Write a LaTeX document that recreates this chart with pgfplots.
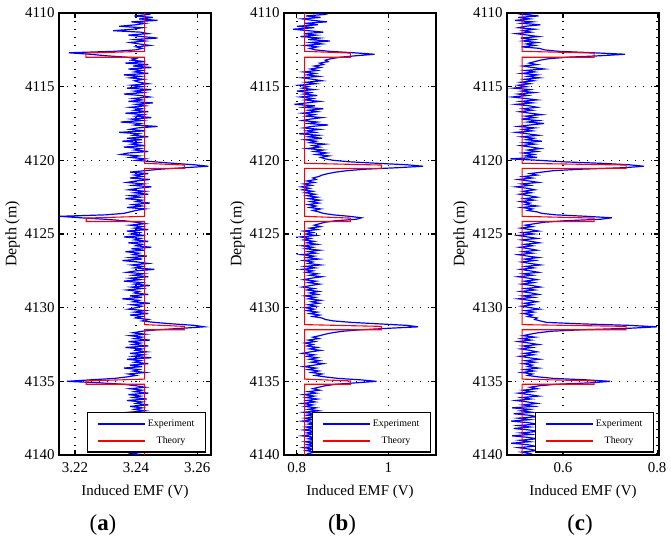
\documentclass[border=0pt]{standalone}
\usepackage{fontspec}
\setmainfont{Liberation Serif}
\usepackage{pgfplots}
\usepackage{pgfplotstable}
\pgfplotsset{compat=1.18}

\pgfplotstableread{
d a b c
4110.0 3.2425 0.845 0.540
4110.1 3.2440 0.860 0.515
4110.2 3.2395 0.820 0.548
4110.3 3.2455 0.852 0.505
4110.4 3.2410 0.812 0.530
4110.5 3.2470 0.835 0.498
4110.6 3.2385 0.866 0.535
4110.7 3.2430 0.818 0.512
4110.8 3.2400 0.846 0.552
4110.9 3.2345 0.800 0.520
4111.0 3.2420 0.838 0.505
4111.1 3.2390 0.792 0.540
4111.2 3.2325 0.825 0.515
4111.3 3.2415 0.858 0.532
4111.4 3.2440 0.815 0.500
4111.5 3.2375 0.842 0.525
4111.6 3.2420 0.808 0.548
4111.7 3.2470 0.850 0.510
4111.8 3.2395 0.825 0.538
4111.9 3.2430 0.872 0.515
4112.0 3.2380 0.830 0.545
4112.1 3.2410 0.855 0.522
4112.2 3.2445 0.818 0.540
4112.3 3.2400 0.845 0.512
4112.4 3.2420 0.828 0.550
4112.5 3.2400 0.840 0.560
4112.6 3.2330 0.870 0.590
4112.7 3.2180 0.925 0.665
4112.8 3.2250 0.970 0.732
4112.9 3.2300 0.930 0.680
4113.0 3.2370 0.895 0.610
4113.1 3.2400 0.875 0.570
4113.2 3.2385 0.862 0.552
4113.3 3.2430 0.868 0.540
4113.4 3.2365 0.850 0.528
4113.5 3.2440 0.858 0.545
4113.6 3.2390 0.838 0.515
4113.7 3.2450 0.852 0.535
4113.8 3.2375 0.830 0.560
4113.9 3.2420 0.845 0.520
4114.0 3.2395 0.815 0.540
4114.1 3.2440 0.840 0.512
4114.2 3.2360 0.822 0.545
4114.3 3.2415 0.848 0.525
4114.4 3.2380 0.812 0.550
4114.5 3.2425 0.835 0.518
4114.6 3.2395 0.855 0.538
4114.7 3.2410 0.820 0.510
4114.8 3.2440 0.842 0.530
4114.9 3.2385 0.805 0.505
4115.0 3.2420 0.825 0.522
4115.1 3.2370 0.812 0.495
4115.2 3.2450 0.838 0.530
4115.3 3.2395 0.800 0.512
4115.4 3.2425 0.830 0.540
4115.5 3.2360 0.815 0.505
4115.6 3.2415 0.845 0.525
4115.7 3.2445 0.808 0.492
4115.8 3.2390 0.835 0.520
4115.9 3.2420 0.818 0.545
4116.0 3.2375 0.850 0.510
4116.1 3.2455 0.822 0.535
4116.2 3.2400 0.795 0.500
4116.3 3.2430 0.840 0.528
4116.4 3.2380 0.815 0.545
4116.5 3.2420 0.858 0.515
4116.6 3.2395 0.825 0.535
4116.7 3.2440 0.845 0.508
4116.8 3.2365 0.812 0.530
4116.9 3.2425 0.838 0.555
4117.0 3.2400 0.820 0.520
4117.1 3.2450 0.855 0.540
4117.2 3.2385 0.830 0.512
4117.3 3.2420 0.812 0.548
4117.4 3.2350 0.845 0.525
4117.5 3.2415 0.825 0.560
4117.6 3.2395 0.868 0.530
4117.7 3.2470 0.832 0.505
4117.8 3.2405 0.815 0.540
4117.9 3.2380 0.850 0.515
4118.0 3.2430 0.822 0.535
4118.1 3.2345 0.840 0.500
4118.2 3.2410 0.805 0.525
4118.3 3.2390 0.848 0.548
4118.4 3.2440 0.825 0.512
4118.5 3.2370 0.855 0.538
4118.6 3.2420 0.818 0.522
4118.7 3.2355 0.842 0.555
4118.8 3.2410 0.828 0.518
4118.9 3.2385 0.862 0.540
4119.0 3.2430 0.835 0.510
4119.1 3.2360 0.850 0.532
4119.2 3.2415 0.822 0.552
4119.3 3.2395 0.858 0.525
4119.4 3.2440 0.838 0.545
4119.5 3.2375 0.865 0.515
4119.6 3.2350 0.842 0.538
4119.7 3.2410 0.870 0.520
4119.8 3.2380 0.852 0.545
4119.9 3.2430 0.862 0.488
4120.0 3.2400 0.880 0.550
4120.1 3.2460 0.915 0.600
4120.2 3.2520 0.975 0.680
4120.3 3.2590 1.040 0.740
4120.4 3.2636 1.076 0.772
4120.5 3.2560 1.020 0.730
4120.6 3.2480 0.950 0.640
4120.7 3.2430 0.910 0.580
4120.8 3.2380 0.885 0.555
4120.9 3.2440 0.868 0.530
4121.0 3.2395 0.855 0.545
4121.1 3.2420 0.848 0.515
4121.2 3.2380 0.835 0.535
4121.3 3.2445 0.842 0.505
4121.4 3.2400 0.822 0.528
4121.5 3.2370 0.838 0.548
4121.6 3.2425 0.815 0.512
4121.7 3.2390 0.832 0.530
4121.8 3.2450 0.810 0.500
4121.9 3.2405 0.828 0.525
4122.0 3.2375 0.812 0.540
4122.1 3.2430 0.835 0.515
4122.2 3.2395 0.818 0.532
4122.3 3.2440 0.840 0.508
4122.4 3.2380 0.822 0.528
4122.5 3.2415 0.845 0.545
4122.6 3.2365 0.825 0.518
4122.7 3.2420 0.850 0.538
4122.8 3.2400 0.830 0.510
4122.9 3.2445 0.848 0.530
4123.0 3.2390 0.825 0.520
4123.1 3.2420 0.842 0.545
4123.2 3.2370 0.828 0.512
4123.3 3.2430 0.852 0.535
4123.4 3.2400 0.835 0.525
4123.5 3.2380 0.848 0.545
4123.6 3.2360 0.858 0.555
4123.7 3.2300 0.880 0.585
4123.8 3.2150 0.915 0.650
4123.9 3.2220 0.941 0.704
4124.0 3.2300 0.930 0.680
4124.1 3.2360 0.885 0.605
4124.2 3.2400 0.862 0.560
4124.3 3.2430 0.850 0.540
4124.4 3.2380 0.838 0.520
4124.5 3.2420 0.852 0.535
4124.6 3.2395 0.828 0.510
4124.7 3.2440 0.845 0.530
4124.8 3.2370 0.815 0.548
4124.9 3.2410 0.835 0.515
4125.0 3.2385 0.820 0.538
4125.1 3.2430 0.842 0.505
4125.2 3.2360 0.808 0.525
4125.3 3.2415 0.830 0.545
4125.4 3.2395 0.815 0.512
4125.5 3.2440 0.838 0.532
4125.6 3.2375 0.822 0.550
4125.7 3.2420 0.845 0.518
4125.8 3.2400 0.812 0.535
4125.9 3.2450 0.835 0.508
4126.0 3.2385 0.818 0.528
4126.1 3.2425 0.850 0.545
4126.2 3.2365 0.825 0.515
4126.3 3.2410 0.842 0.535
4126.4 3.2390 0.810 0.505
4126.5 3.2435 0.838 0.525
4126.6 3.2380 0.822 0.548
4126.7 3.2420 0.848 0.518
4126.8 3.2355 0.815 0.540
4126.9 3.2405 0.835 0.512
4127.0 3.2440 0.825 0.530
4127.1 3.2385 0.852 0.552
4127.2 3.2420 0.818 0.520
4127.3 3.2395 0.840 0.538
4127.4 3.2460 0.812 0.510
4127.5 3.2400 0.835 0.530
4127.6 3.2370 0.820 0.548
4127.7 3.2425 0.845 0.515
4127.8 3.2390 0.828 0.535
4127.9 3.2440 0.855 0.505
4128.0 3.2380 0.832 0.528
4128.1 3.2415 0.815 0.545
4128.2 3.2360 0.842 0.518
4128.3 3.2420 0.825 0.538
4128.4 3.2395 0.850 0.512
4128.5 3.2445 0.830 0.535
4128.6 3.2385 0.812 0.552
4128.7 3.2420 0.838 0.520
4128.8 3.2370 0.822 0.540
4128.9 3.2410 0.848 0.510
4129.0 3.2395 0.828 0.532
4129.1 3.2440 0.845 0.548
4129.2 3.2380 0.818 0.515
4129.3 3.2420 0.840 0.538
4129.4 3.2355 0.825 0.505
4129.5 3.2410 0.852 0.528
4129.6 3.2390 0.832 0.545
4129.7 3.2445 0.848 0.518
4129.8 3.2385 0.825 0.535
4129.9 3.2420 0.842 0.512
4130.0 3.2400 0.818 0.530
4130.1 3.2375 0.838 0.550
4130.2 3.2430 0.822 0.520
4130.3 3.2395 0.845 0.538
4130.4 3.2440 0.828 0.515
4130.5 3.2380 0.850 0.535
4130.6 3.2420 0.835 0.525
4130.7 3.2400 0.855 0.545
4130.8 3.2440 0.862 0.540
4130.9 3.2420 0.880 0.552
4131.0 3.2460 0.920 0.565
4131.1 3.2520 0.980 0.640
4131.2 3.2590 1.040 0.740
4131.3 3.2623 1.065 0.800
4131.4 3.2550 1.000 0.740
4131.5 3.2470 0.940 0.640
4131.6 3.2420 0.900 0.575
4131.7 3.2390 0.878 0.548
4131.8 3.2430 0.862 0.530
4131.9 3.2380 0.850 0.515
4132.0 3.2420 0.835 0.540
4132.1 3.2395 0.848 0.512
4132.2 3.2445 0.825 0.532
4132.3 3.2375 0.840 0.505
4132.4 3.2415 0.818 0.528
4132.5 3.2390 0.835 0.548
4132.6 3.2440 0.822 0.515
4132.7 3.2365 0.845 0.535
4132.8 3.2420 0.828 0.510
4132.9 3.2400 0.852 0.530
4133.0 3.2435 0.830 0.545
4133.1 3.2380 0.812 0.518
4133.2 3.2425 0.838 0.538
4133.3 3.2390 0.822 0.508
4133.4 3.2450 0.845 0.528
4133.5 3.2370 0.828 0.550
4133.6 3.2415 0.850 0.520
4133.7 3.2395 0.832 0.540
4133.8 3.2440 0.858 0.515
4133.9 3.2380 0.838 0.535
4134.0 3.2420 0.815 0.525
4134.1 3.2360 0.842 0.548
4134.2 3.2410 0.825 0.518
4134.3 3.2390 0.848 0.538
4134.4 3.2430 0.832 0.512
4134.5 3.2375 0.855 0.535
4134.6 3.2400 0.840 0.525
4134.7 3.2370 0.862 0.548
4134.8 3.2330 0.890 0.580
4134.9 3.2250 0.940 0.650
4135.0 3.2174 0.974 0.700
4135.1 3.2280 0.930 0.660
4135.2 3.2360 0.885 0.585
4135.3 3.2400 0.862 0.550
4135.4 3.2430 0.848 0.530
4135.5 3.2380 0.835 0.545
4135.6 3.2420 0.850 0.515
4135.7 3.2395 0.825 0.535
4135.8 3.2440 0.842 0.505
4135.9 3.2375 0.815 0.528
4136.0 3.2415 0.838 0.548
4136.1 3.2390 0.820 0.512
4136.2 3.2435 0.845 0.532
4136.3 3.2370 0.822 0.500
4136.4 3.2420 0.840 0.525
4136.5 3.2400 0.812 0.545
4136.6 3.2440 0.835 0.515
4136.7 3.2380 0.818 0.538
4136.8 3.2420 0.842 0.492
4136.9 3.2395 0.825 0.530
4137.0 3.2430 0.848 0.510
4137.1 3.2375 0.815 0.535
4137.2 3.2410 0.838 0.495
4137.3 3.2390 0.822 0.528
4137.4 3.2435 0.845 0.545
4137.5 3.2380 0.818 0.505
4137.6 3.2420 0.835 0.530
4137.7 3.2400 0.812 0.490
4137.8 3.2440 0.840 0.525
4137.9 3.2370 0.825 0.545
4138.0 3.2415 0.848 0.505
4138.1 3.2395 0.820 0.530
4138.2 3.2430 0.838 0.495
4138.3 3.2380 0.815 0.528
4138.4 3.2420 0.842 0.548
4138.5 3.2400 0.822 0.510
4138.6 3.2440 0.835 0.532
4138.7 3.2375 0.812 0.492
4138.8 3.2415 0.840 0.525
4138.9 3.2390 0.825 0.545
4139.0 3.2430 0.845 0.508
4139.1 3.2380 0.818 0.530
4139.2 3.2420 0.838 0.490
4139.3 3.2400 0.822 0.525
4139.4 3.2435 0.842 0.540
4139.5 3.2375 0.815 0.505
4139.6 3.2410 0.835 0.528
4139.7 3.2395 0.820 0.545
4139.8 3.2430 0.840 0.512
4139.9 3.2385 0.825 0.530
4140.0 3.2410 0.832 0.520
}\emftab

\pgfplotsset{
  emfpanel/.style={
    width=152bp, height=442bp, scale only axis,
    y dir=reverse, ymin=4110, ymax=4140,
    ytick={4110,4115,4120,4125,4130,4135,4140},
    /pgf/number format/1000 sep={},
    /pgf/number format/assume math mode=true,
    grid=major,
    grid style={black, line width=1.4bp, dash pattern=on 1.4bp off 6.6bp},
    axis line style={black, line width=1.6bp},
    tick style={black, line width=1.2bp},
    tick align=inside, tick pos=both,
    major tick length=5bp,
    scaled x ticks=false,
    tick label style={font=\fontsize{15}{18}\selectfont},
    label style={font=\fontsize{15}{18}\selectfont},
    xticklabel style={yshift=-4bp},
    yticklabel style={xshift=-1bp},
    xlabel={Induced EMF (V)},
    ylabel={Depth (m)},
    xlabel style={yshift=-6bp},
    ylabel style={yshift=-2bp, font=\fontsize{16}{19}\selectfont},
    legend style={at={(rel axis cs:0.967,0.005)}, anchor=south east,
      font=\fontsize{10}{12}\selectfont,
      cells={anchor=center}, inner xsep=9bp, inner ysep=5bp,
      row sep=5bp},
    legend cell align=center,
  },
}

\begin{document}
\begin{tikzpicture}
\path[use as bounding box] (0,0) rectangle (671bp,544bp);

% (a)
\begin{axis}[emfpanel, at={(59bp,89bp)}, anchor=south west,
  legend style={draw=black, line width=1.4bp, fill=white},
  xmin=3.2148, xmax=3.2645, xtick={3.22,3.24,3.26},
  xticklabels={3.22,3.24,3.26}]
\addplot[blue, line width=1.2bp,
  legend image code/.code={\draw[blue, line width=2.2bp] (0bp,0bp) -- (47bp,0bp);}]
  table[x=a, y=d] {\emftab};
\addplot[red, line width=1.1bp,
  legend image code/.code={\draw[red, line width=1.5bp] (0bp,0bp) -- (47bp,0bp);}]
  coordinates {
(3.2428,4110) (3.2428,4112.6) (3.2236,4112.72) (3.2236,4113.0) (3.2428,4113.0)
(3.2428,4120.2) (3.2558,4120.32) (3.2558,4120.55) (3.2428,4120.55)
(3.2428,4123.8) (3.2237,4123.92) (3.2237,4124.15) (3.2428,4124.15)
(3.2428,4131.15) (3.2558,4131.27) (3.2558,4131.5) (3.2428,4131.5)
(3.2428,4134.85) (3.2237,4134.97) (3.2237,4135.2) (3.2428,4135.2)
(3.2428,4140)};
\legend{Experiment, Theory}
\end{axis}

% (b)
\begin{axis}[emfpanel, at={(284bp,89bp)}, anchor=south west,
  legend style={draw=black, line width=1.4bp, fill=white},
  xmin=0.772, xmax=1.104, xtick={0.8,1}, xticklabels={0.8,1}]
\addplot[blue, line width=1.2bp,
  legend image code/.code={\draw[blue, line width=2.2bp] (0bp,0bp) -- (47bp,0bp);}]
  table[x=b, y=d] {\emftab};
\addplot[red, line width=1.1bp,
  legend image code/.code={\draw[red, line width=1.5bp] (0bp,0bp) -- (47bp,0bp);}]
  coordinates {
(0.817,4110) (0.817,4112.6) (0.917,4112.72) (0.917,4113.0) (0.817,4113.0)
(0.817,4120.2) (0.985,4120.32) (0.985,4120.55) (0.817,4120.55)
(0.817,4123.8) (0.917,4123.92) (0.917,4124.15) (0.817,4124.15)
(0.817,4131.15) (0.985,4131.27) (0.985,4131.5) (0.817,4131.5)
(0.817,4134.85) (0.917,4134.97) (0.917,4135.2) (0.817,4135.2)
(0.817,4140)};
\legend{Experiment, Theory}
\end{axis}

% (c)
\begin{axis}[emfpanel, at={(507bp,89bp)}, anchor=south west,
  legend style={draw=black, line width=1.4bp, fill=white},
  xmin=0.481, xmax=0.804, xtick={0.6,0.8}, xticklabels={0.6,0.8}]
\addplot[blue, line width=1.2bp,
  legend image code/.code={\draw[blue, line width=2.2bp] (0bp,0bp) -- (47bp,0bp);}]
  table[x=c, y=d] {\emftab};
\addplot[red, line width=1.1bp,
  legend image code/.code={\draw[red, line width=1.5bp] (0bp,0bp) -- (47bp,0bp);}]
  coordinates {
(0.513,4110) (0.513,4112.6) (0.666,4112.72) (0.666,4113.0) (0.513,4113.0)
(0.513,4120.2) (0.734,4120.32) (0.734,4120.55) (0.513,4120.55)
(0.513,4123.8) (0.666,4123.92) (0.666,4124.15) (0.513,4124.15)
(0.513,4131.15) (0.734,4131.27) (0.734,4131.5) (0.513,4131.5)
(0.513,4134.85) (0.666,4134.97) (0.666,4135.2) (0.513,4135.2)
(0.513,4140)};
\legend{Experiment, Theory}
\end{axis}

\node[font=\fontsize{23}{27}\selectfont] at (103bp,19bp) {(\textbf{a})};
\node[font=\fontsize{23}{27}\selectfont] at (342bp,19bp) {(\textbf{b})};
\node[font=\fontsize{23}{27}\selectfont] at (580bp,19bp) {(\textbf{c})};
\end{tikzpicture}
\end{document}
